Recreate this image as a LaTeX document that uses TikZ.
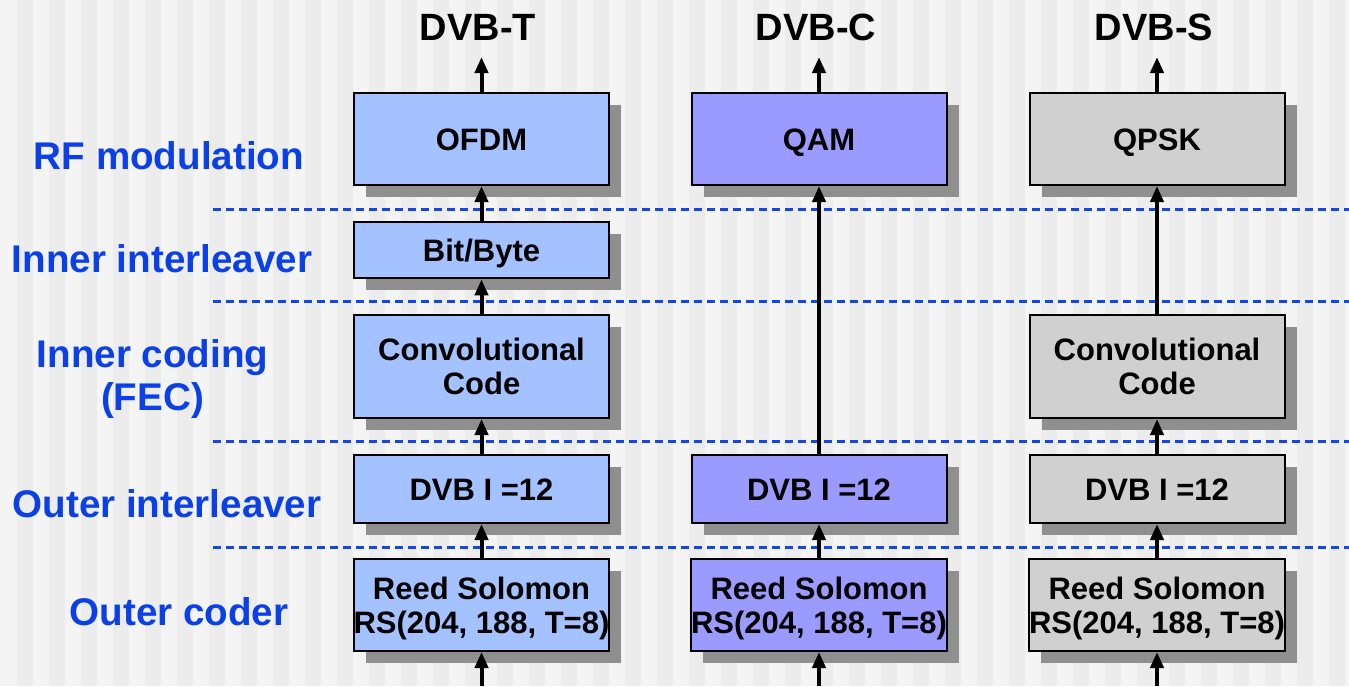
\documentclass[tikz,border=0pt]{standalone}
\usepackage{fontspec}
\setmainfont{Liberation Sans}
\usetikzlibrary{arrows.meta,shadows}
\definecolor{bglight}{HTML}{F4F4F4}
\definecolor{bgdark}{HTML}{ECECEC}
\definecolor{colT}{HTML}{A4C2FF}
\definecolor{colC}{HTML}{9B9BFF}
\definecolor{colS}{HTML}{D0D0D0}
\definecolor{shadowgray}{HTML}{8F8F8F}
\definecolor{labelblue}{HTML}{0A40E6}
\definecolor{sepblue}{HTML}{1446E6}
\begin{document}
\begin{tikzpicture}[x=1pt,y=-1pt,
  box/.style={draw=black, line width=2pt, minimum width=255pt, inner sep=0pt,
    align=center, font=\fontsize{31}{34}\selectfont\bfseries,
    text height=22pt, text depth=0pt,
    drop shadow={shadow xshift=12pt, shadow yshift=-12pt, fill=shadowgray, opacity=1, draw=none}},
  twoline/.style={text height=56pt},
  lab/.style={text=labelblue, font=\fontsize{38.6}{42.6}\selectfont\bfseries,
    inner sep=0pt, text height=27.5pt, text depth=0pt, anchor=north, align=center},
  ttl/.style={font=\fontsize{38}{42}\selectfont\bfseries,
    inner sep=0pt, text height=27.2pt, text depth=0pt, anchor=north},
  sep/.style={draw=sepblue, line width=3pt, dash pattern=on 8pt off 5pt},
  arr/.style={line width=4pt, -{Triangle[length=16pt,width=13pt]}}]
\useasboundingbox (0,0) rectangle (1349,686);
\fill[bglight] (0,0) rectangle (1349,686);
\foreach \i in {0,...,41} \fill[bgdark] ({32*\i+17},0) rectangle ({32*\i+33},686);

% separators
\foreach \yy in {209.5,301.5,441.5,547} \draw[sep] (213,\yy) -- (1349,\yy);

% titles
\node[ttl] (tT) at (478,13.3) {DVB-T};
\node[ttl] (tC) at (816,13.3) {DVB-C};
\node[ttl] (tS) at (1154,13.3) {DVB-S};

% left labels
\node[lab] (lRF) at (169,141.7) {RF modulation};
\node[lab] (lII) at (162,245) {Inner interleaver};
\node[lab, text height=70.1pt] (lIC) at (152.5,340) {Inner coding\\(FEC)};
\node[lab] (lOI) at (167,490) {Outer interleaver};
\node[lab] (lOC) at (179,598) {Outer coder};

% column T
\node[box, fill=colT, minimum height=91.7pt] (ofdm) at (481.5,139.2) {OFDM};
\node[box, fill=colT, minimum height=56.6pt] (bit) at (481.5,250) {Bit/Byte};
\node[box, twoline, fill=colT, minimum height=103pt] (convT) at (481.5,366.5) {Convolutional\\Code};
\node[box, fill=colT, minimum height=68pt] (dvbT) at (481.5,489) {DVB I =12};
\node[box, twoline, fill=colT, minimum height=92pt] (rsT) at (481.5,605) {Reed Solomon\\RS(204, 188, T=8)};
% column C
\node[box, fill=colC, minimum height=91.7pt] (qam) at (819,139.2) {QAM};
\node[box, fill=colC, minimum height=68pt] (dvbC) at (819,489) {DVB I =12};
\node[box, twoline, fill=colC, minimum height=92pt] (rsC) at (819,605) {Reed Solomon\\RS(204, 188, T=8)};
% column S
\node[box, fill=colS, minimum height=91.7pt] (qpsk) at (1157,139.2) {QPSK};
\node[box, twoline, fill=colS, minimum height=103pt] (convS) at (1157,366.5) {Convolutional\\Code};
\node[box, fill=colS, minimum height=68pt] (dvbS) at (1157,489) {DVB I =12};
\node[box, twoline, fill=colS, minimum height=92pt] (rsS) at (1157,605) {Reed Solomon\\RS(204, 188, T=8)};

% free ends
\coordinate (inT) at (481.5,686);
\coordinate (inC) at (819,686);
\coordinate (inS) at (1157,686);
\coordinate (outT) at (481.5,57);
\coordinate (outC) at (819,57);
\coordinate (outS) at (1157,57);

% arrows
\draw[arr] (inT) -- (rsT.south);
\draw[arr] (rsT.north) -- (dvbT.south);
\draw[arr] (dvbT.north) -- (convT.south);
\draw[arr] (convT.north) -- (bit.south);
\draw[arr] (bit.north) -- (ofdm.south);
\draw[arr] (ofdm.north) -- (outT);

\draw[arr] (inC) -- (rsC.south);
\draw[arr] (rsC.north) -- (dvbC.south);
\draw[arr] (dvbC.north) -- (qam.south);
\draw[arr] (qam.north) -- (outC);

\draw[arr] (inS) -- (rsS.south);
\draw[arr] (rsS.north) -- (dvbS.south);
\draw[arr] (dvbS.north) -- (convS.south);
\draw[arr] (convS.north) -- (qpsk.south);
\draw[arr] (qpsk.north) -- (outS);
\end{tikzpicture}
\end{document}
